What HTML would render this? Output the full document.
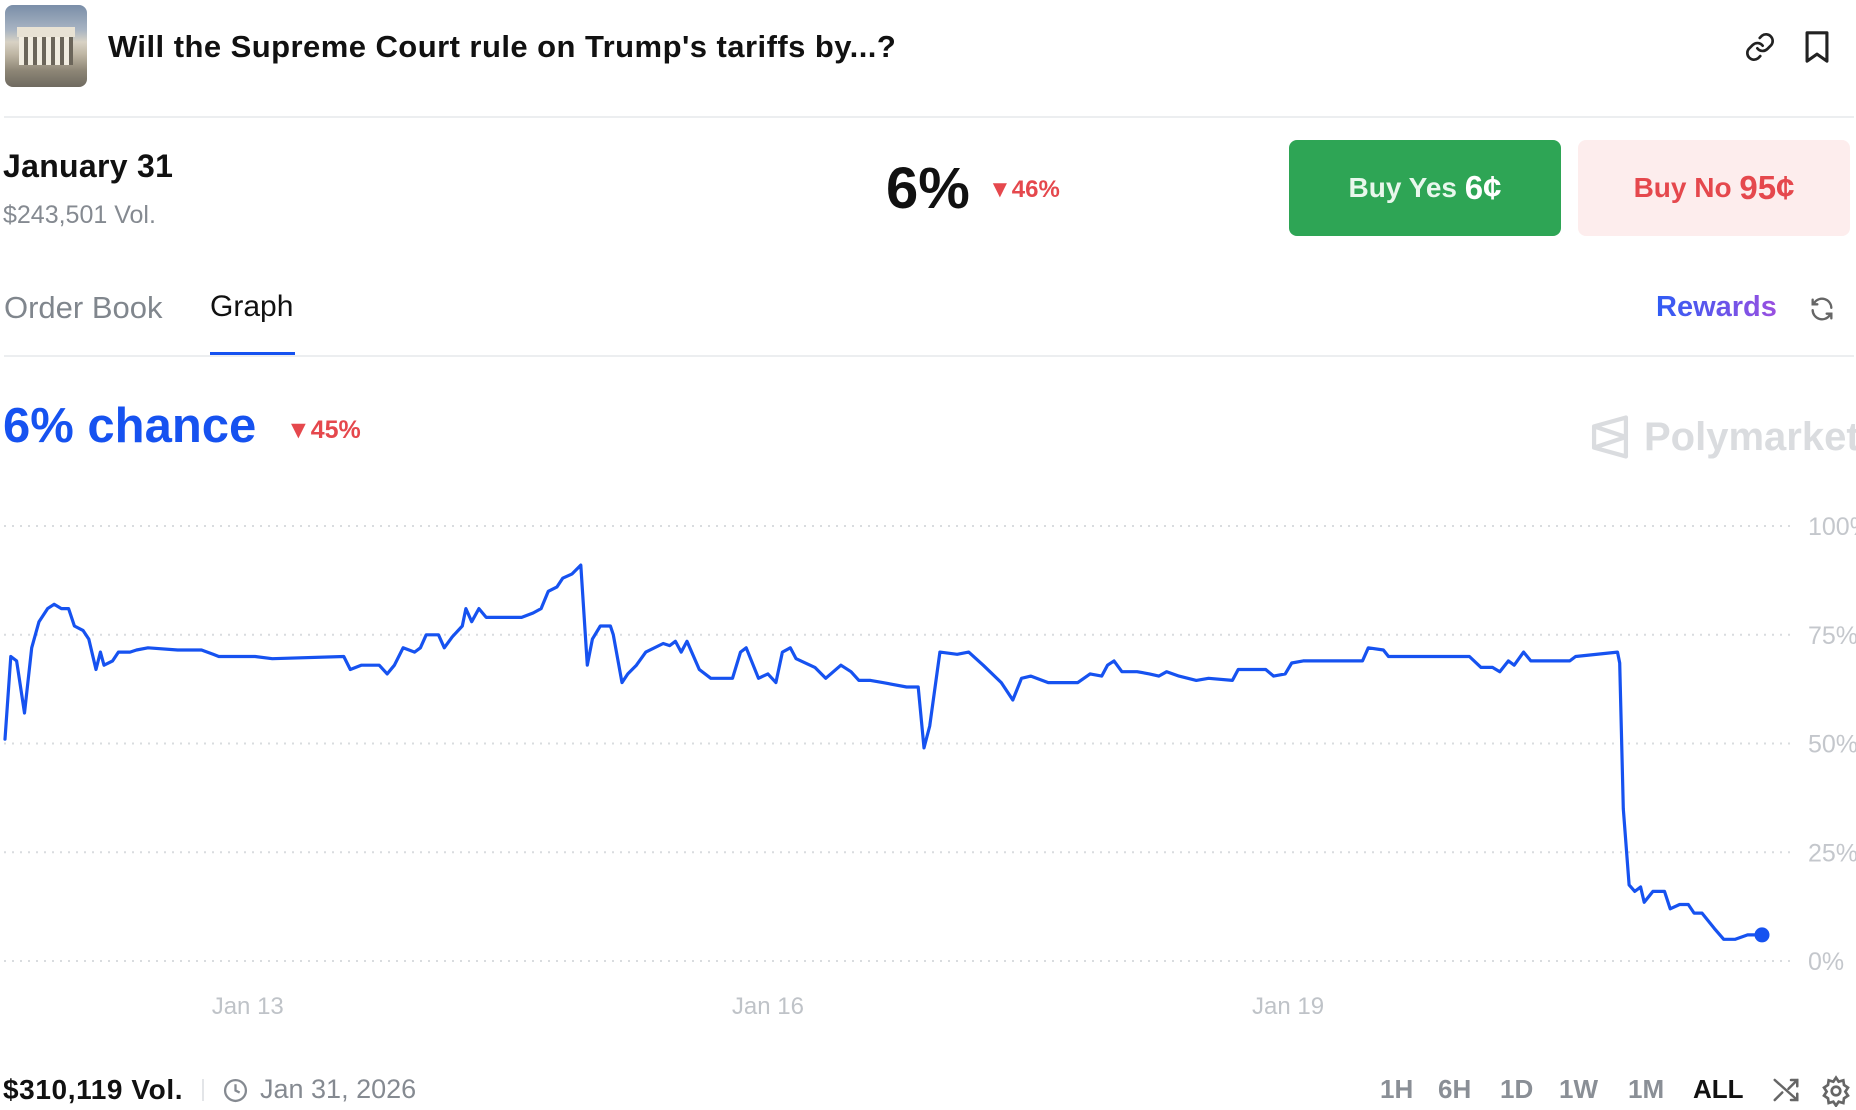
<!DOCTYPE html>
<html><head><meta charset="utf-8">
<style>
*{margin:0;padding:0;box-sizing:border-box}
body{width:1856px;height:1110px;background:#fff;font-family:"Liberation Sans",sans-serif;position:relative;overflow:hidden;color:#111}
.abs{position:absolute;white-space:nowrap}
</style></head><body>
<div class="abs" style="left:5px;top:5px;width:82px;height:82px;border-radius:8px;background:linear-gradient(180deg,#7a8ea8 0%,#a7b3c2 30%,#d8d2c4 45%,#bfb6a4 60%,#8d8676 80%,#6f6a60 100%);overflow:hidden">
<div style="position:absolute;left:12px;top:22px;width:58px;height:10px;background:#e8e2d4"></div>
<div style="position:absolute;left:14px;top:32px;width:54px;height:28px;background:repeating-linear-gradient(90deg,#f1ece0 0 5px,#6b655a 5px 9px)"></div>
</div>
<div class="abs" style="left:108px;top:29px;font-size:31px;font-weight:700;letter-spacing:0.45px;color:#111">Will the Supreme Court rule on Trump's tariffs by...?</div>
<svg class="abs" style="left:1744px;top:30px" width="32" height="34" viewBox="0 0 24 24" fill="none" stroke="#222" stroke-width="2" stroke-linecap="round"><path d="M10 13a5 5 0 0 0 7.5.5l3-3a5 5 0 0 0-7-7l-1.7 1.7"/><path d="M14 11a5 5 0 0 0-7.5-.5l-3 3a5 5 0 0 0 7 7l1.7-1.7"/></svg>
<svg class="abs" style="left:1804px;top:30px" width="26" height="34" viewBox="0 0 18 24" fill="none" stroke="#222" stroke-width="2.2" stroke-linejoin="round"><path d="M2 2h14v20l-7-5-7 5z"/></svg>
<div class="abs" style="left:4px;top:116px;width:1850px;height:2px;background:#eceef0"></div>

<div class="abs" style="left:3px;top:148px;font-size:32px;font-weight:700;letter-spacing:0.3px">January 31</div>
<div class="abs" style="left:3px;top:201px;font-size:25px;color:#858a91">$243,501 Vol.</div>
<div class="abs" style="left:886px;top:155px;font-size:58px;font-weight:700;color:#111">6%</div>
<div class="abs" style="left:988px;top:176px;font-size:24px;font-weight:700;color:#e5484d">▼46%</div>
<div class="abs" style="left:1289px;top:140px;width:272px;height:96px;border-radius:8px;background:#2ea555;color:#e8f7ec;font-size:28px;font-weight:700;display:flex;align-items:center;justify-content:center">Buy Yes&nbsp;<span style="font-size:33px;color:#fff">6¢</span></div>
<div class="abs" style="left:1578px;top:140px;width:272px;height:96px;border-radius:8px;background:#fdeded;color:#e5484d;font-size:28px;font-weight:700;display:flex;align-items:center;justify-content:center">Buy No&nbsp;<span style="font-size:33px">95¢</span></div>

<div class="abs" style="left:4px;top:290px;font-size:31px;color:#80868d">Order Book</div>
<div class="abs" style="left:210px;top:290px;font-size:30px;color:#111">Graph</div>
<div class="abs" style="left:210px;top:352px;width:85px;height:4px;background:#1652f0"></div>
<div class="abs" style="left:4px;top:355px;width:1850px;height:2px;background:#eceef0"></div>
<div class="abs" style="left:1656px;top:291px;font-size:29px;font-weight:700;background:linear-gradient(90deg,#2f5cf5,#9a4fe0);-webkit-background-clip:text;color:transparent">Rewards</div>
<svg class="abs" style="left:1808px;top:295px" width="28" height="28" viewBox="0 0 24 24" fill="none" stroke="#666" stroke-width="2" stroke-linecap="round"><path d="M20 11a8 8 0 0 0-14.5-4.5M4 4v4h4"/><path d="M4 13a8 8 0 0 0 14.5 4.5M20 20v-4h-4"/></svg>

<div class="abs" style="left:3px;top:398px;font-size:49px;font-weight:700;color:#1652f0">6% chance</div>
<div class="abs" style="left:286px;top:416px;font-size:25px;font-weight:700;color:#e5484d">▼45%</div>
<div class="abs" style="left:1588px;top:414px;display:flex;align-items:center;gap:12px;color:#dadcdf;font-size:40px;font-weight:700">
<svg width="44" height="46" viewBox="0 0 24 26" fill="none" stroke="#dadcdf" stroke-width="2.4" stroke-linejoin="round"><path d="M21 2L3 7v12l18 5z"/><path d="M3 7l18 6L3 19"/></svg>Polymarket</div>

<svg class="abs" id="chart" style="left:0;top:0" width="1856" height="1110"></svg>

<div class="abs" style="left:3px;top:1074px;font-size:28px;font-weight:700;letter-spacing:0.6px;color:#111">$310,119 Vol.</div>
<div class="abs" style="left:202px;top:1079px;width:2px;height:22px;background:#e3e5e8"></div>
<svg class="abs" style="left:223px;top:1078px" width="25" height="25" viewBox="0 0 24 24" fill="none" stroke="#858a91" stroke-width="2.2"><circle cx="12" cy="12" r="10"/><path d="M12 6v6l4 2"/></svg>
<div class="abs" style="left:260px;top:1074px;font-size:27px;color:#858a91">Jan 31, 2026</div>
<div class="abs" style="left:1380px;top:1074px;font-size:26px;font-weight:700;color:#8a8f96">1H</div>
<div class="abs" style="left:1438px;top:1074px;font-size:26px;font-weight:700;color:#8a8f96">6H</div>
<div class="abs" style="left:1500px;top:1074px;font-size:26px;font-weight:700;color:#8a8f96">1D</div>
<div class="abs" style="left:1559px;top:1074px;font-size:26px;font-weight:700;color:#8a8f96">1W</div>
<div class="abs" style="left:1628px;top:1074px;font-size:26px;font-weight:700;color:#8a8f96">1M</div>
<div class="abs" style="left:1693px;top:1074px;font-size:26px;font-weight:700;color:#111">ALL</div>
<svg class="abs" style="left:1770px;top:1075px" width="32" height="30" viewBox="0 0 24 24" fill="none" stroke="#666" stroke-width="2" stroke-linecap="round"><path d="M3 4l18 16M16 20h5v-5M21 4l-7 7M3 20l6-6M16 4h5v5"/></svg>
<svg class="abs" style="left:1820px;top:1075px" width="32" height="32" viewBox="0 0 24 24" fill="none" stroke="#666" stroke-width="2"><circle cx="12" cy="12" r="3.2"/><path d="M12 2l2 3 3.5-1 .5 3.5 3 2-2 3 2 3-3 2-.5 3.5-3.5-1-2 3-2-3-3.5 1L6 17.5l-3-2 2-3-2-3 3-2L6.5 4 10 5z"/></svg>

<script>
const hours=[14.4,15.2,16.0,17.1,18.1,19.1,20.3,21.2,22.2,23.2,24.0,25.2,26.0,27.0,27.6,28.1,29.3,30.1,31.7,32.6,34.2,38.3,41.6,43.2,44.0,49.0,51.4,61.3,62.2,63.7,66.2,67.3,68.3,69.5,71.1,71.9,72.7,74.4,75.2,76.3,77.7,78.2,79.0,80.0,81.0,83.4,85.9,87.5,88.6,89.6,90.8,91.6,92.9,94.1,95.0,95.7,96.8,98.2,98.6,99.8,100.6,101.8,103.1,105.5,106.4,107.2,108.0,108.8,110.5,112.1,115.1,116.2,117.0,118.7,120.0,121.1,122.0,123.1,123.9,126.5,128.0,130.1,131.5,132.6,134.2,135.9,139.2,140.8,141.6,142.4,143.8,146.2,147.8,148.8,149.8,152.3,153.9,155.1,156.4,158.8,162.9,164.6,166.2,167.0,167.9,169.0,171.1,172.8,174.1,175.2,176.9,179.3,181.0,184.3,185.1,188.9,190.0,191.6,192.5,194.1,202.3,203.1,205.2,205.9,217.1,218.7,220.3,221.3,222.5,223.3,224.6,225.6,231.0,231.8,237.6,237.9,238.4,239.2,240.0,240.8,241.3,242.5,244.1,244.9,246.2,247.4,248.2,249.3,251.0,252.3,253.9,255.6,257.6];
const prices=[51,70,69,57,72,78,81,82,81,81,77,76,74,67,71,68,69,71,71,71.5,72,71.5,71.5,70.5,70,70,69.5,70,67,68,68,66,68,72,71,72,75,75,72,74.5,77,81,78,81,79,79,79,80,81,85,86,88,89,91,68,74,77,77,75,64,66,68,71,73,72.5,73.5,71,73.5,67,65,65,71,72,65,66,64,71,72,69.5,67.5,65,68,66.5,64.5,64.5,64,63,63,49,54,71,70.5,71,69.5,68,64,60,65,65.5,64,64,66,65.5,68,69,66.5,66.5,66,65.5,66.5,65.5,64.5,65,64.5,67,67,65.5,66,68.5,69,69,72,71.5,70,70,67.5,67.5,66.5,69,68,71,69,69,70,71,68.5,35,17.5,16,17,13.5,16,16,12,13,13,11,11,7.5,5,5,6,6];
const yTicks=[0,25,50,75,100];
const yTickLabels=["0%","25%","50%","75%","100%"];
const xTicks=[48,120,192];
const xTickLabels=["Jan 13","Jan 16","Jan 19"];
const NS="http://www.w3.org/2000/svg";
const svg=document.getElementById('chart');
const X0=5,X1=1762,Y0=961,Y100=526;
const hMin=hours[0],hMax=hours[hours.length-1];
function xs(h){return X0+(h-hMin)/(hMax-hMin)*(X1-X0);}
function ys(v){return Y0+(Y100-Y0)*v/100;}
function mk(t,a){const e=document.createElementNS(NS,t);for(const k in a)e.setAttribute(k,a[k]);svg.appendChild(e);return e;}
yTicks.forEach((v,i)=>{
  const l=mk('line',{x1:4,x2:1793,y1:ys(v),y2:ys(v),stroke:'#d9dcdf','stroke-width':2,'stroke-dasharray':'2 6'});
  
  
  const t=mk('text',{x:1808,y:ys(v)+9,fill:'#c4c7cc','font-size':25,'font-family':'Liberation Sans, sans-serif'});
  t.textContent=yTickLabels[i];
  
  
});
xTicks.forEach((h,i)=>{
  const t=mk('text',{x:xs(h),y:1014,fill:'#bfc3c8','font-size':24,'text-anchor':'middle','font-family':'Liberation Sans, sans-serif'});
  t.textContent=xTickLabels[i];
  
  
});
let d='';
hours.forEach((h,i)=>{d+=(i?'L':'M')+xs(h).toFixed(1)+','+ys(prices[i]).toFixed(1);});
const p=mk('path',{d:d,fill:'none',stroke:'#1652f0','stroke-width':3.2,'stroke-linejoin':'round','stroke-linecap':'round'});


const n=hours.length-1;
const c=mk('circle',{cx:xs(hours[n]),cy:ys(prices[n]),r:7.5,fill:'#1652f0'});


</script>
</body></html>
